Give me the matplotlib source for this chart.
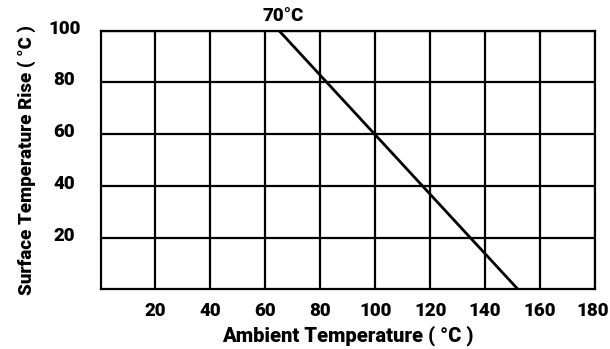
import matplotlib.pyplot as plt
from matplotlib.transforms import ScaledTranslation

# derating line: surface temperature rise vs ambient temperature
ambient = [65, 152]
rise = [100, 0]

x_ticks = [20, 40, 60, 80, 100, 120, 140, 160, 180]
y_ticks = [20, 40, 60, 80, 100]
marker_x = 66.5
marker_text = '70\u00b0C'

plt.rcParams['font.family'] = ['Roboto', 'DejaVu Sans']
plt.rcParams['font.weight'] = 'black'

fig = plt.figure(figsize=(6.1, 3.49), dpi=100)
ax = fig.add_axes([0.1648, 0.1705, 0.8107, 0.7415])

ax.plot(ambient, rise, color='black', lw=2.0, solid_capstyle='butt')

ax.set_xlim(0, 180)
ax.set_ylim(0, 100)
ax.set_xticks(x_ticks)
ax.set_yticks(y_ticks)
ax.grid(True, color='black', lw=1.6)
ax.set_axisbelow(True)
for s in ax.spines.values():
    s.set_linewidth(1.6)

ax.tick_params(length=0, labelsize=13.5)
ax.tick_params(axis='x', pad=9)
ax.tick_params(axis='y', pad=26)
for lab in ax.get_xticklabels() + ax.get_yticklabels():
    lab.set_fontweight('black')
for lab in ax.get_yticklabels():
    lab.set_horizontalalignment('center')
    lab.set_transform(lab.get_transform() + ScaledTranslation(0, 4 / 100, fig.dpi_scale_trans))
# keep the last x label inside the figure edge
ax.get_xticklabels()[-1].set_transform(
    ax.get_xticklabels()[-1].get_transform() + ScaledTranslation(-2 / 100, 0, fig.dpi_scale_trans))

ax.set_xlabel('Ambient Temperature ( \u00b0C )', fontsize=14.5, fontweight='black', labelpad=4)
ax.set_ylabel('Surface Temperature Rise ( \u00b0C )', fontsize=13.5, fontweight='black', labelpad=9)

ax.annotate(marker_text, xy=(marker_x, 100), xytext=(0, 4), textcoords='offset points',
            ha='center', va='bottom', fontsize=13.5, fontweight='black', annotation_clip=False)

fig.savefig('out.png', dpi=100)
